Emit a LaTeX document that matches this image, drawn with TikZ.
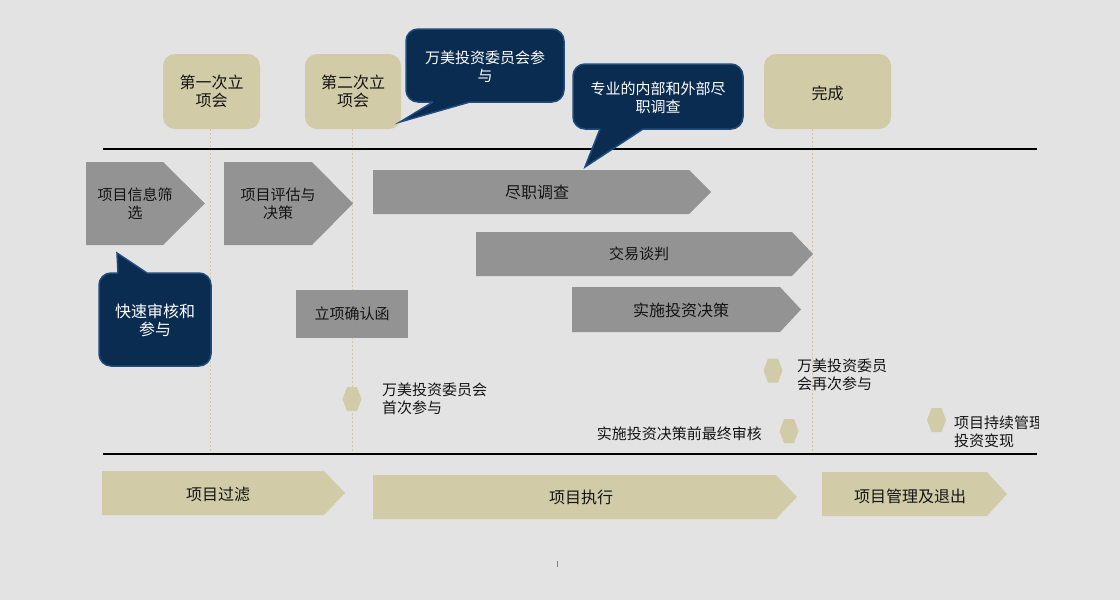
\documentclass[tikz,border=0pt]{standalone}
\usepackage{fontspec}
\setmainfont{Noto Sans CJK SC}
\definecolor{bgc}{HTML}{E3E3E3}
\definecolor{tan}{HTML}{D2CBA7}
\definecolor{tandash}{HTML}{CFC6A2}
\definecolor{navy}{HTML}{0B2C51}
\definecolor{navyedge}{HTML}{1F4C7C}
\definecolor{grayarrow}{HTML}{939393}
\definecolor{txt}{HTML}{141414}
\begin{document}
\begin{tikzpicture}[x=1pt,y=-1pt,
  every node/.style={font=\fontsize{15pt}{18pt}\selectfont, text=txt, inner sep=0pt, align=center},
  big/.style={font=\fontsize{16pt}{18pt}\selectfont},
  tanbox/.style={fill=tan, rounded corners=12pt},
  navybox/.style={fill=navy, draw=navyedge, line width=1.5pt, rounded corners=12pt},
  navytxt/.style={text=white},
  grayshape/.style={fill=grayarrow},
  tanshape/.style={fill=tan},
  mainline/.style={line width=2.6pt, black},
  guide/.style={tandash, line width=0.9pt, dash pattern=on 2pt off 2pt},
  tailedge/.style={navyedge, line width=1.5pt, line join=miter},
  hexa/.style={fill=tan},
  lbl/.style={align=left, anchor=west}
]
\fill[bgc] (0,0) rectangle (1120,600);
\useasboundingbox (0,0) rectangle (1120,600);

% guide lines
\coordinate (g1t) at (210,129); \coordinate (g1b) at (210,454);
\coordinate (g2t) at (352,129); \coordinate (g2b) at (352,454);
\coordinate (g3t) at (812,129); \coordinate (g3b) at (812,454);
\draw[guide] (g1t) -- (g1b);
\draw[guide] (g2t) -- (g2b);
\draw[guide] (g3t) -- (g3b);

% main lines
\coordinate (l1a) at (103,149); \coordinate (l1b) at (1037,149);
\coordinate (l2a) at (103,454); \coordinate (l2b) at (1037,454);
\draw[mainline] (l1a) -- (l1b);
\draw[mainline] (l2a) -- (l2b);

% tan milestone boxes
\node[tanbox, big, minimum width=97pt, minimum height=75pt] (m1) at (211.5,91.5) {第一次立\\项会};
\node[tanbox, big, minimum width=96pt, minimum height=75pt] (m2) at (353,91.5) {第二次立\\项会};
\node[tanbox, minimum width=127pt, minimum height=75pt] (m3) at (827.5,91.5) {};
\node[big] (m3t) at (827.5,93) {完成};

% callout 1
\node[navybox, minimum width=158pt, minimum height=73pt] (c1) at (485,65.5) {};
\coordinate (c1tip) at (400,122);
\fill[navy] (433,99) -- (433,102) -- (c1tip) -- (470,102) -- (470,99) -- cycle;
\draw[tailedge] (433,102) -- (c1tip) -- (470,102);
\node[navytxt] (c1t) at (485,67) {万美投资委员会参\\与};

% callout 2
\node[navybox, minimum width=170pt, minimum height=65pt] (c2) at (658,96.5) {};
\coordinate (c2tip) at (585,167);
\fill[navy] (600,126) -- (600,129) -- (c2tip) -- (643,129) -- (643,126) -- cycle;
\draw[tailedge] (600,129) -- (c2tip) -- (643,129);
\node[navytxt] (c2t) at (658,97.5) {专业的内部和外部尽\\职调查};

% callout 3
\node[navybox, minimum width=112pt, minimum height=93pt] (c3) at (155,319.5) {};
\coordinate (c3tip) at (117,253);
\fill[navy] (118,276) -- (118,273) -- (c3tip) -- (147,273) -- (147,276) -- cycle;
\draw[tailedge] (118,273) -- (c3tip) -- (147,273);
\node[navytxt, big] (c3t) at (155,320) {快速审核和\\参与};

% gray process arrows
\fill[grayshape] (86,162) -- (163,162) -- (205,203.5) -- (163,245) -- (86,245) -- cycle;
\node (a1) at (135,204) {项目信息筛\\选};
\fill[grayshape] (224,162) -- (312,162) -- (353,203.5) -- (312,245) -- (224,245) -- cycle;
\node (a2) at (278,204) {项目评估与\\决策};
\fill[grayshape] (373,170) -- (689,170) -- (711,192) -- (689,214) -- (373,214) -- cycle;
\node[big] (a3) at (537,192) {尽职调查};
\fill[grayshape] (476,232) -- (792,232) -- (813,254) -- (792,276) -- (476,276) -- cycle;
\node (a4) at (639,254) {交易谈判};
\fill[grayshape] (572,287) -- (780,287) -- (801,309.5) -- (780,332) -- (572,332) -- cycle;
\node[big] (a5) at (681,310) {实施投资决策};
\node[fill=grayarrow, minimum width=112pt, minimum height=48pt] (a6) at (352,314) {立项确认函};

% hexagon markers
\newcommand{\hexmark}[2]{\fill[hexa] ({#1-9.5},{#2}) -- ({#1-5},{#2-12}) -- ({#1+5},{#2-12}) -- ({#1+9.5},{#2}) -- ({#1+5},{#2+12}) -- ({#1-5},{#2+12}) -- cycle;}
\hexmark{352}{399}
\hexmark{773}{370.5}
\hexmark{789}{431}
\hexmark{936.5}{420}
\node[lbl] (t1) at (382,398.5) {万美投资委员会\\首次参与};
\node[lbl] (t2) at (797,374.5) {万美投资委员\\会再次参与};
\node[anchor=east] (t3) at (762,434) {实施投资决策前最终审核};
\begin{scope}
\clip (0,0) rectangle (1038,600);
\node[lbl] (t4) at (954,432) {项目持续管理\\投资变现};
\end{scope}

% bottom phase arrows
\fill[tanshape] (102,471) -- (324,471) -- (345,493) -- (324,515) -- (102,515) -- cycle;
\node[big] (p1) at (218,494) {项目过滤};
\fill[tanshape] (373,475) -- (776,475) -- (797,497) -- (776,519) -- (373,519) -- cycle;
\node[big] (p2) at (581,497) {项目执行};
\fill[tanshape] (822,472) -- (987,472) -- (1007,494) -- (987,516) -- (822,516) -- cycle;
\node[big] (p3) at (910,496) {项目管理及退出};

% small tick
\coordinate (tk1) at (557.5,561); \coordinate (tk2) at (557.5,567);
\draw[gray, line width=0.6pt] (tk1) -- (tk2);
\end{tikzpicture}
\end{document}
